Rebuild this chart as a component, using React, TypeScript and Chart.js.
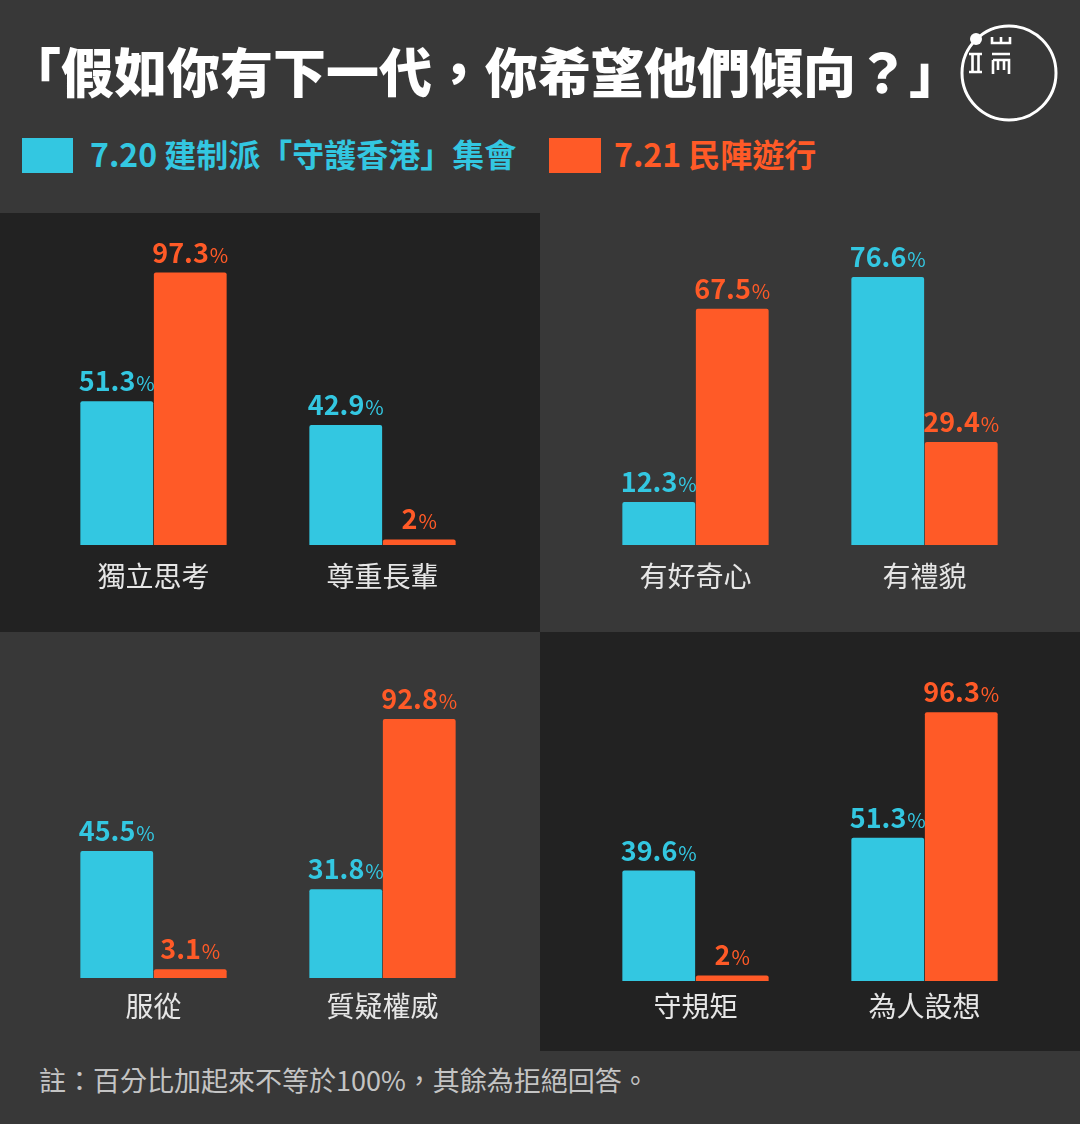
import React, { useEffect, useRef } from 'react';
import { Chart, registerables } from 'chart.js';

Chart.register(...registerables);

// ---------- data ----------
const categories = ['獨立思考', '尊重長輩', '有好奇心', '有禮貌', '服從', '質疑權威', '守規矩', '為人設想'];
const rallyValues = [51.3, 42.9, 12.3, 76.6, 45.5, 31.8, 39.6, 51.3]; // 7.20 建制派集會
const marchValues = [97.3, 2, 67.5, 29.4, 3.1, 92.8, 2, 96.3]; // 7.21 民陣遊行
const seriesNames = ['7.20 建制派「守護香港」集會', '7.21 民陣遊行'];
const panelYMax = [100, 80, 100, 100];
const titleText = '「假如你有下一代，你希望他們傾向？」';
const footnoteText = '註：百分比加起來不等於100%，其餘為拒絕回答。';

// ---------- style ----------
const BLUE = '#33c7e1';
const ORANGE = '#ff5a27';
const BG = '#383838';
const DARK = '#222222';
const FONT = '"Noto Sans CJK TC", "Noto Sans", sans-serif';

const panels = [
  { left: 0, top: 213, bg: DARK, pad: { left: 39, right: 43, top: 52, bottom: 23.4 }, tickPad: 15 },
  { left: 540, top: 213, bg: BG, pad: { left: 41, right: 41, top: 52, bottom: 23.4 }, tickPad: 15 },
  { left: 0, top: 632, bg: BG, pad: { left: 39, right: 43, top: 67, bottom: 15.4 }, tickPad: 12 },
  { left: 540, top: 632, bg: DARK, pad: { left: 41, right: 41, top: 70, bottom: 18.4 }, tickPad: 9 },
];

const valueLabelPlugin = {
  id: 'valueLabels',
  afterDatasetsDraw(chart: any) {
    const ctx = chart.ctx;
    chart.data.datasets.forEach((ds: any, di: number) => {
      const meta = chart.getDatasetMeta(di);
      meta.data.forEach((bar: any, i: number) => {
        const num = String(ds.data[i]);
        ctx.save();
        ctx.textAlign = 'left';
        ctx.textBaseline = 'alphabetic';
        ctx.fillStyle = ds.backgroundColor;
        ctx.font = `bold 27px ${FONT}`;
        const w1 = ctx.measureText(num).width;
        ctx.font = `20px ${FONT}`;
        const w2 = ctx.measureText('%').width;
        const start = bar.x - (w1 + w2 + 1) / 2;
        const y = bar.y - 10;
        ctx.font = `bold 27px ${FONT}`;
        ctx.fillText(num, start, y);
        ctx.font = `20px ${FONT}`;
        ctx.fillText('%', start + w1 + 1, y);
        ctx.restore();
      });
    });
  },
};

function Panel({ index }: { index: number }) {
  const ref = useRef<HTMLCanvasElement>(null);
  const p = panels[index];
  useEffect(() => {
    if (!ref.current) return;
    const labels = categories.slice(index * 2, index * 2 + 2);
    const chart = new Chart(ref.current, {
      type: 'bar',
      data: {
        labels,
        datasets: [
          {
            label: seriesNames[0],
            data: rallyValues.slice(index * 2, index * 2 + 2),
            backgroundColor: BLUE,
            barPercentage: 0.99,
            categoryPercentage: 0.642,
            borderRadius: 2,
          },
          {
            label: seriesNames[1],
            data: marchValues.slice(index * 2, index * 2 + 2),
            backgroundColor: ORANGE,
            barPercentage: 0.99,
            categoryPercentage: 0.642,
            borderRadius: 2,
          },
        ],
      },
      options: {
        responsive: false,
        maintainAspectRatio: false,
        animation: false,
        layout: { padding: p.pad },
        plugins: { legend: { display: false }, tooltip: { enabled: false } },
        scales: {
          x: {
            grid: { display: false, drawTicks: false },
            border: { display: false },
            ticks: {
              color: '#e6e6e6',
              padding: p.tickPad,
              font: { family: FONT, size: 28, lineHeight: 1.2 },
            },
          },
          y: { display: false, min: 0, max: panelYMax[index] },
        },
      },
      plugins: [valueLabelPlugin],
    } as any);
    return () => chart.destroy();
  }, [index]);
  return (
    <div style={{ position: 'absolute', left: p.left, top: p.top, width: 540, height: 419, background: p.bg }}>
      <canvas ref={ref} width={540} height={419} style={{ display: 'block', width: 540, height: 419 }} />
    </div>
  );
}

function Logo() {
  return (
    <svg width={110} height={110} viewBox="0 0 110 110" style={{ position: 'absolute', left: 954, top: 18 }}>
      <circle cx={55} cy={55} r={47} fill="none" stroke="#fff" strokeWidth={3} />
      <circle cx={22} cy={21} r={6} fill="#fff" />
      <g stroke="#fff" strokeWidth={2.6} fill="none">
        <path d="M38 19 V25 H56 V19 M47 19 V25" />
        <path d="M15 36 H28 M15 54 H28 M18.5 36 V54 M24.5 36 V54" />
        <path d="M38 36 H56 M39 42 H55 V56 M39 42 V56 M44 42 V52 M50 42 V52" />
      </g>
    </svg>
  );
}

export default function App() {
  return (
    <div
      style={{
        position: 'absolute',
        left: 0,
        top: 0,
        width: 1080,
        height: 1124,
        background: BG,
        overflow: 'hidden',
        fontFamily: FONT,
      }}
    >
      <div
        style={{
          position: 'absolute',
          left: 8,
          top: 44,
          fontSize: 53,
          lineHeight: '53px',
          fontWeight: 900,
          color: '#ffffff',
          whiteSpace: 'nowrap',
        }}
      >
        {titleText}
      </div>
      <Logo />
      <div style={{ position: 'absolute', left: 22, top: 138, width: 51, height: 35, background: BLUE }} />
      <div
        style={{
          position: 'absolute',
          left: 90,
          top: 137,
          fontSize: 32,
          lineHeight: '32px',
          fontWeight: 700,
          color: BLUE,
          whiteSpace: 'nowrap',
        }}
      >
        {seriesNames[0]}
      </div>
      <div style={{ position: 'absolute', left: 549, top: 138, width: 52, height: 35, background: ORANGE }} />
      <div
        style={{
          position: 'absolute',
          left: 614,
          top: 137,
          fontSize: 32,
          lineHeight: '32px',
          fontWeight: 700,
          color: ORANGE,
          whiteSpace: 'nowrap',
        }}
      >
        {seriesNames[1]}
      </div>
      {panels.map((_, i) => (
        <Panel key={i} index={i} />
      ))}
      <div
        style={{
          position: 'absolute',
          left: 39,
          top: 1066,
          fontSize: 27,
          lineHeight: '27px',
          color: '#c4c4c4',
          whiteSpace: 'nowrap',
        }}
      >
        {footnoteText}
      </div>
    </div>
  );
}
